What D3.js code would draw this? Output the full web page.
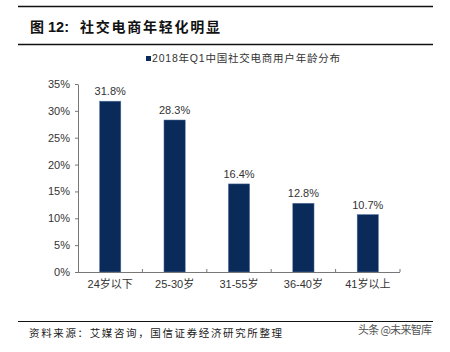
<!DOCTYPE html>
<html>
<head>
<meta charset="utf-8">
<script src="https://cdn.jsdelivr.net/npm/d3@7"></script>
<style>
  body { margin: 0; background: #fff; }
  svg { display: block; font-family: "Liberation Sans", Arial, "Noto Sans CJK SC", sans-serif; }
</style>
</head>
<body>
<svg id="chart" width="450" height="352"></svg>
<script>
const categories = ["24岁以下", "25-30岁", "31-55岁", "36-40岁", "41岁以上"];
const values = [31.8, 28.3, 16.4, 12.8, 10.7];
const yTicks = [0, 5, 10, 15, 20, 25, 30, 35];
const seriesName = "2018年Q1中国社交电商用户年龄分布";

const svg = d3.select("#chart");
const navy = "#0a2a5a";

// header lines + title
svg.append("line").attr("x1", 18).attr("x2", 433).attr("y1", 6.5).attr("y2", 6.5)
  .attr("stroke", "#111").attr("stroke-width", 1.3);
svg.append("line").attr("x1", 18).attr("x2", 433).attr("y1", 44.5).attr("y2", 44.5)
  .attr("stroke", "#111").attr("stroke-width", 1.3);
svg.append("text").attr("x", 30).attr("y", 32)
  .attr("font-size", 14).attr("font-weight", "bold").attr("fill", "#111")
  .attr("font-family", "'Noto Sans CJK SC', sans-serif").text("图");
svg.append("text").attr("x", 48).attr("y", 32)
  .attr("font-size", 14.5).attr("font-weight", "bold").attr("fill", "#111")
  .attr("font-family", "'Liberation Sans', Arial, sans-serif").text("12:");
svg.append("text").attr("x", 80).attr("y", 32)
  .attr("font-size", 14).attr("font-weight", "bold").attr("fill", "#111")
  .attr("font-family", "'Noto Sans CJK SC', sans-serif")
  .attr("textLength", 140).attr("lengthAdjust", "spacing")
  .text("社交电商年轻化明显");

// legend
svg.append("rect").attr("x", 146).attr("y", 56).attr("width", 5).attr("height", 5).attr("fill", navy);
svg.append("text").attr("x", 152).attr("y", 62).attr("font-size", 10.5).attr("fill", "#333")
  .attr("textLength", 188).attr("lengthAdjust", "spacing")
  .text(seriesName);

const margin = { left: 78, right: 400, top: 84, bottom: 272 };

const x = d3.scaleBand().domain(categories).range([margin.left, margin.right]).paddingInner(0.67).paddingOuter(0.335);
const y = d3.scaleLinear().domain([0, 35]).range([margin.bottom, margin.top]);

// y axis
const yAxis = svg.append("g").attr("transform", `translate(${margin.left},0)`)
  .call(d3.axisLeft(y).tickValues(yTicks).tickFormat(d => d + "%").tickSize(3).tickSizeOuter(0).tickPadding(5));
yAxis.select(".domain").attr("stroke", "#777");
yAxis.selectAll(".tick line").attr("stroke", "#777");
yAxis.selectAll("text").attr("font-size", 11).attr("fill", "#333")
  .attr("font-family", "'Liberation Sans', Arial, sans-serif");

// bars
svg.append("g").selectAll("rect").data(values).join("rect")
  .attr("x", (d, i) => x(categories[i]))
  .attr("y", d => y(d))
  .attr("width", x.bandwidth())
  .attr("height", d => y(0) - y(d))
  .attr("fill", navy)
  .attr("stroke", "#5a7aa6").attr("stroke-width", 0.5);

// value labels
svg.append("g").selectAll("text").data(values).join("text")
  .attr("x", (d, i) => x(categories[i]) + x.bandwidth() / 2)
  .attr("y", d => y(d) - 6)
  .attr("text-anchor", "middle").attr("font-size", 11).attr("fill", "#333")
  .text(d => d.toFixed(1) + "%");

// x axis
const step = (margin.right - margin.left) / categories.length;
const xg = svg.append("g");
xg.append("line").attr("x1", margin.left).attr("x2", margin.right)
  .attr("y1", y(0) + 0.5).attr("y2", y(0) + 0.5).attr("stroke", "#777");
xg.selectAll("line.tk").data(d3.range(1, categories.length + 1)).join("line").attr("class", "tk")
  .attr("x1", i => margin.left + i * step).attr("x2", i => margin.left + i * step)
  .attr("y1", y(0)).attr("y2", y(0) - 3).attr("stroke", "#777");
xg.selectAll("text").data(categories).join("text")
  .attr("x", d => x(d) + x.bandwidth() / 2)
  .attr("y", y(0) + 16)
  .attr("text-anchor", "middle").attr("font-size", 11).attr("fill", "#333")
  .text(d => d);

// footer
svg.append("line").attr("x1", 18).attr("x2", 433).attr("y1", 321.5).attr("y2", 321.5)
  .attr("stroke", "#111").attr("stroke-width", 1.2);
svg.append("text").attr("x", 29).attr("y", 337).attr("font-size", 10.5).attr("fill", "#222")
  .attr("font-family", "'Noto Sans CJK SC', sans-serif")
  .attr("textLength", 253).attr("lengthAdjust", "spacing")
  .text("资料来源：艾媒咨询，国信证券经济研究所整理");
svg.append("text").attr("x", 358).attr("y", 334).attr("font-size", 11).attr("fill", "#555")
  .attr("font-family", "'Noto Sans CJK SC', sans-serif")
  .attr("textLength", 74).attr("lengthAdjust", "spacing")
  .text("头条 @未来智库");
</script>
</body>
</html>
